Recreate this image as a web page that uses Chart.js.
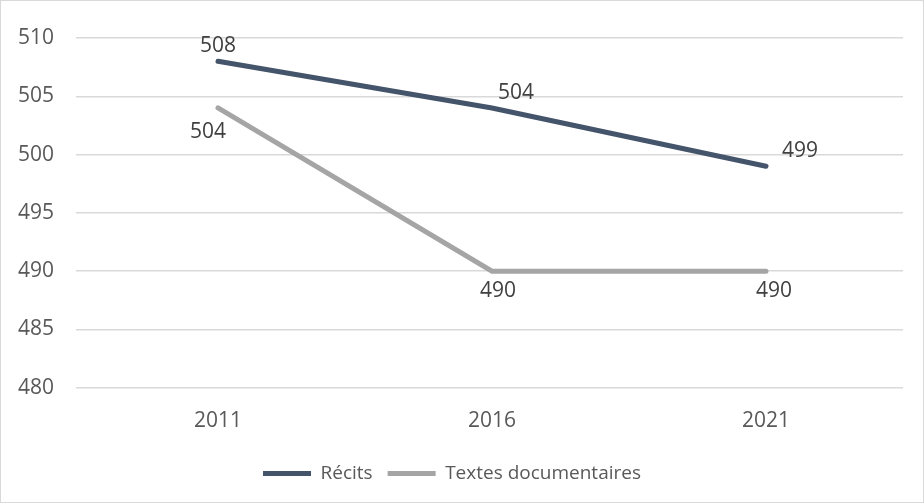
<!DOCTYPE html>
<html>
<head>
<meta charset="utf-8">
<script src="https://cdn.jsdelivr.net/npm/chart.js@4.4.1/dist/chart.umd.min.js"></script>
<style>
  html, body { margin: 0; padding: 0; background: #fff; }
  .wrap { width: 922px; height: 501px; border: 1px solid #D9D9D9; position: relative; }
</style>
</head>
<body>
<div class="wrap"><canvas class="canvas" width="922" height="501"></canvas></div>
<script>
// chart data
var years = ['2011', '2016', '2021']
var recits = [508, 504, 499]
var textesDoc = [504, 490, 490]
var yTicks = [480, 485, 490, 495, 500, 505, 510]

// label placement per point (dx, dy from the point), styling only
var labelShift = [
    [[0, -15], [24, -15], [34, -15]],
    [[-10, 24], [6, 20], [8, 20]]
]

var valueLabels = {
    id: 'valueLabels',
    afterDatasetsDraw(chart) {
        var ctx = chart.ctx
        ctx.save()
        ctx.font = '21px "Open Sans", sans-serif'
        ctx.fillStyle = '#404040'
        ctx.textAlign = 'center'
        ctx.textBaseline = 'middle'
        chart.data.datasets.forEach((ds, i) => {
            var meta = chart.getDatasetMeta(i)
            meta.data.forEach((pt, j) => {
                var s = labelShift[i][j]
                ctx.fillText(ds.data[j], pt.x + s[0], pt.y + s[1])
            })
        })
        ctx.restore()
    }
}

var ctx = document.querySelector('.canvas').getContext('2d')
var myChart = new Chart(ctx, {
    type: 'line',
    data: {
        labels: years,
        datasets: [{
            label: 'Récits',
            data: recits,
            borderColor: '#44546A',
            backgroundColor: '#44546A',
            borderWidth: 5,
            borderCapStyle: 'round',
            pointRadius: 0,
            pointStyle: 'line',
            tension: 0,
            fill: false
        }, {
            label: 'Textes documentaires',
            data: textesDoc,
            borderColor: '#A5A5A5',
            backgroundColor: '#A5A5A5',
            borderWidth: 5,
            borderCapStyle: 'round',
            pointRadius: 0,
            pointStyle: 'line',
            tension: 0,
            fill: false
        }]
    },
    options: {
        responsive: false,
        animation: false,
        layout: { padding: { top: 37, right: 20, bottom: 9, left: 0 } },
        font: { family: '"Open Sans", sans-serif', size: 21 },
        plugins: {
            legend: {
                position: 'bottom',
                labels: {
                    usePointStyle: true,
                    pointStyleWidth: 48,
                    boxHeight: 19,
                    color: '#595959',
                    padding: 15,
                    font: { family: '"Open Sans", sans-serif', size: 19 }
                }
            },
            tooltip: { enabled: false }
        },
        scales: {
            x: {
                offset: true,
                afterFit: axis => { axis.height += 2 },
                grid: { display: false },
                border: { display: false },
                ticks: { color: '#595959', padding: 13, font: { size: 21 } }
            },
            y: {
                min: 480,
                max: 510,
                afterBuildTicks: axis => { axis.ticks = yTicks.map(v => ({ value: v })) },
                afterFit: axis => { axis.width = 80 },
                grid: { color: '#D9D9D9', lineWidth: 1.5, tickLength: 5, tickColor: '#D9D9D9' },
                border: { display: false },
                ticks: { color: '#595959', padding: 22, font: { size: 21 } }
            }
        }
    },
    plugins: [valueLabels]
})
</script>
</body>
</html>
